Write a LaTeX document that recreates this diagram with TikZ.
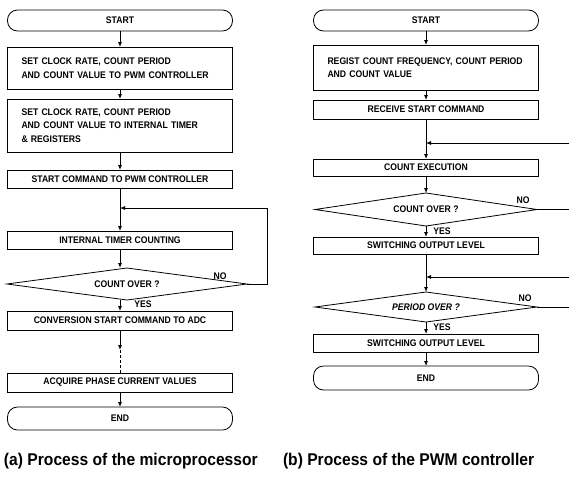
\documentclass[tikz,border=0pt]{standalone}
\usepackage{fontspec}
\setmainfont{Liberation Sans}
\newfontfamily\boxfont[FakeStretch=0.9]{Liberation Sans}
\newfontfamily\capfont[FakeStretch=0.92]{Liberation Sans}
\usetikzlibrary{arrows.meta,shapes.geometric}

\tikzset{
  x=1pt, y=-1pt,
  every node/.style={inner sep=0pt, outer sep=0pt},
  flowline/.style={line width=0.8pt, draw=black},
  arr/.style={flowline, -{Latex[length=5pt,width=4pt]}},
  txt/.style={font=\boxfont\bfseries\fontsize{9.6}{13.5}\selectfont},
  procbox/.style={txt, draw, line width=0.8pt, minimum width=225, align=center},
  leftbox/.style={txt, draw, line width=0.8pt, text width=197, inner xsep=14, align=left},
  terminal/.style={txt, draw, line width=0.8pt, minimum width=225, rounded corners=10pt},
  decision/.style={txt, draw, line width=0.8pt, diamond, aspect=7},
  caption/.style={font=\capfont\bfseries\fontsize{17}{20}\selectfont, anchor=west}
}

\begin{document}
\begin{tikzpicture}
\useasboundingbox (0,0) rectangle (569,485);

% ---------------- (a) microprocessor ----------------
\node[terminal, minimum height=21] (aS) at (120,20.5) {START};
\node[leftbox, minimum height=42] (a1) at (120,68)
  {SET CLOCK RATE, COUNT PERIOD\\AND COUNT VALUE TO PWM CONTROLLER};
\node[leftbox, minimum height=53] (a2) at (120,125.5)
  {SET CLOCK RATE, COUNT PERIOD\\AND COUNT VALUE TO INTERNAL TIMER\\\& REGISTERS};
\node[procbox, minimum height=18] (a3) at (120,179) {START COMMAND TO PWM CONTROLLER};
\coordinate (aj) at (120,208);
\node[procbox, minimum height=18] (a4) at (120,240) {INTERNAL TIMER COUNTING};
\node[decision, minimum width=240, minimum height=32] (ad) at (127,284) {COUNT OVER ?};
\node[procbox, minimum height=19] (a5) at (120,320.5) {CONVERSION START COMMAND TO ADC};
\coordinate (am) at (120,350);
\node[procbox, minimum height=19] (a6) at (120,382.5) {ACQUIRE PHASE CURRENT VALUES};
\node[terminal, minimum height=23] (aE) at (120,418.5) {END};

\draw[arr] (aS) -- (a1);
\draw[arr] (a1) -- (a2);
\draw[arr] (a2) -- (a3);
\draw[flowline] (a3) -- (aj);
\draw[arr] (aj) -- (a4);
\draw[arr] (a4) -- (ad.north -| a4.south);
\draw[arr] (ad.south -| a5.north) -- (a5);
\draw[arr] (a5) -- (am);
\draw[flowline, dash pattern=on 3pt off 2pt] (am) -- (a6);
\draw[arr] (a6) -- (aE);
\draw[arr] (ad.east) -- (267,284) |- (aj);
\node[txt] (ano) at (220,276) {NO};
\node[txt] (ayes) at (143,304) {YES};

% ---------------- (b) PWM controller ----------------
\node[terminal, minimum height=21] (bS) at (426,20.5) {START};
\node[leftbox, minimum height=45] (b1) at (426,67.5)
  {REGIST COUNT FREQUENCY, COUNT PERIOD\\AND COUNT VALUE};
\node[procbox, minimum height=19] (b2) at (426,109.5) {RECEIVE START COMMAND};
\coordinate (bj1) at (426,143);
\coordinate (br1) at (569,143);
\node[procbox, minimum height=17] (b3) at (426,167.5) {COUNT EXECUTION};
\node[decision, minimum width=222, minimum height=33] (bd1) at (426,209.5) {COUNT OVER ?};
\coordinate (bo1) at (569,209.5);
\node[procbox, minimum height=17] (b4) at (426,245.5) {SWITCHING OUTPUT LEVEL};
\coordinate (bj2) at (426,277);
\coordinate (br2) at (569,277);
\node[decision, minimum width=222, minimum height=30] (bd2) at (426,307) {\itshape PERIOD OVER ?};
\coordinate (bo2) at (569,307);
\node[procbox, minimum height=18] (b5) at (426,343) {SWITCHING OUTPUT LEVEL};
\node[terminal, minimum height=24] (bE) at (426,378) {END};

\draw[arr] (bS) -- (b1);
\draw[arr] (b1) -- (b2);
\draw[flowline] (b2) -- (bj1);
\draw[arr] (bj1) -- (b3);
\draw[arr] (br1) -- (bj1);
\draw[arr] (b3) -- (bd1);
\draw[flowline] (bd1.east) -- (bo1);
\draw[arr] (bd1) -- (b4);
\draw[flowline] (b4) -- (bj2);
\draw[arr] (bj2) -- (bd2);
\draw[arr] (br2) -- (bj2);
\draw[flowline] (bd2.east) -- (bo2);
\draw[arr] (bd2) -- (b5);
\draw[arr] (b5) -- (bE);
\node[txt] (bno1) at (523,200) {NO};
\node[txt] (byes1) at (442,231) {YES};
\node[txt] (bno2) at (525,298) {NO};
\node[txt] (byes2) at (442,327) {YES};

% ---------------- captions ----------------
\node[caption] (capa) at (4,461) {(a) Process of the microprocessor};
\node[caption] (capb) at (283,461) {(b) Process of the PWM controller};
\end{tikzpicture}
\end{document}
